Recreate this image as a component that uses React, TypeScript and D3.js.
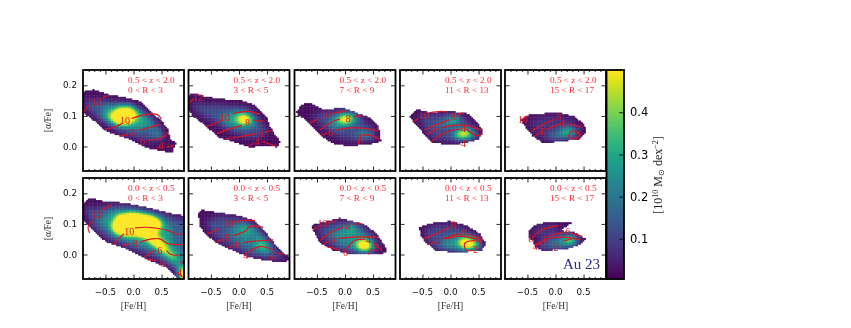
import React, { useEffect, useRef } from 'react'
import { select, scaleLinear, axisBottom, axisTop, axisLeft, axisRight, line, curveCatmullRom, polygonContains, blur2, interpolateViridis, format, range } from 'd3'

type Pt = [number, number]
type Level = { v: number, pts: Pt[] }
type Contour = { label: string, at: Pt, pts: (Pt | null)[] }

const zBins = ['0.5 < z < 2.0', '0.0 < z < 0.5']
const rBins = ['0 < R < 3', '3 < R < 5', '7 < R < 9', '11 < R < 13', '15 < R < 17']
const xMajor = [-0.5, 0, 0.5]
const xMinor = [-0.8, -0.7, -0.6, -0.4, -0.3, -0.2, -0.1, 0.1, 0.2, 0.3, 0.4, 0.6, 0.7, 0.8]
const yMajor = [0, 0.1, 0.2]
const cbarTicks = [0.1, 0.2, 0.3, 0.4]

// outlines of the populated area, [Fe/H] vs [a/Fe]
const outlineT1: Pt[] = [[-0.9, 0.179], [-0.72, 0.186], [-0.45, 0.17], [-0.18, 0.162], [0.12, 0.148], [0.29, 0.115], [0.47, 0.088], [0.6, 0.061], [0.65, 0.023], [0.75, 0.012], [0.68, -0.021], [0.47, -0.012], [0.24, -0.004], [-0.12, 0.028], [-0.48, 0.05], [-0.72, 0.088], [-0.9, 0.11]]
const outlineT2: Pt[] = [[-0.887, 0.17], [-0.815, 0.175], [-0.625, 0.164], [-0.34, 0.156], [0.02, 0.151], [0.256, 0.137], [0.375, 0.115], [0.49, 0.099], [0.55, 0.066], [0.64, 0.039], [0.73, 0.017], [0.67, -0.001], [0.52, 0.003], [0.196, -0.001], [-0.1, 0.017], [-0.34, 0.028], [-0.58, 0.066], [-0.815, 0.099], [-0.887, 0.115]]
const outlineT3: Pt[] = [[-0.86, 0.115], [-0.77, 0.137], [-0.625, 0.143], [-0.39, 0.121], [-0.03, 0.126], [0.21, 0.11], [0.45, 0.094], [0.595, 0.066], [0.64, 0.017], [0.39, 0.007], [0.03, 0.003], [-0.24, 0.012], [-0.45, 0.039], [-0.625, 0.072], [-0.74, 0.094], [-0.85, 0.105]]
const outlineT4: Pt[] = [[-0.73, 0.099], [-0.61, 0.121], [-0.375, 0.112], [-0.02, 0.115], [0.28, 0.11], [0.46, 0.083], [0.58, 0.05], [0.49, 0.023], [0.1, 0.007], [-0.315, 0.012], [-0.46, 0.039], [-0.61, 0.072], [-0.72, 0.094]]
const outlineT5: Pt[] = [[-0.62, 0.088], [-0.455, 0.105], [-0.22, 0.108], [0.08, 0.11], [0.35, 0.097], [0.5, 0.072], [0.545, 0.05], [0.41, 0.025], [0.08, 0.017], [-0.22, 0.012], [-0.4, 0.034], [-0.515, 0.058]]
const outlineB1: Pt[] = [[-0.9, 0.166], [-0.78, 0.185], [-0.54, 0.174], [-0.12, 0.168], [0.35, 0.149], [0.71, 0.133], [0.91, 0.127], [0.92, -0.08], [0.8, -0.08], [0.59, -0.041], [0.235, -0.014], [-0.18, 0.024], [-0.48, 0.04], [-0.72, 0.078], [-0.9, 0.111]]
const outlineB2: Pt[] = [[-0.726, 0.133], [-0.667, 0.146], [-0.4, 0.138], [0.02, 0.127], [0.256, 0.111], [0.49, 0.068], [0.73, 0.013], [0.92, -0.014], [0.79, -0.025], [0.55, -0.02], [0.196, -0.009], [-0.1, 0.013], [-0.4, 0.04], [-0.607, 0.068], [-0.7, 0.095]]
const outlineB3: Pt[] = [[-0.595, 0.097], [-0.39, 0.106], [-0.09, 0.119], [0.33, 0.1], [0.535, 0.073], [0.685, 0.035], [0.744, 0.013], [0.625, 0], [0.15, 0], [-0.21, 0.015], [-0.45, 0.04], [-0.565, 0.078]]
const outlineB4: Pt[] = [[-0.554, 0.089], [-0.375, 0.102], [-0.02, 0.109], [0.28, 0.095], [0.52, 0.068], [0.625, 0.035], [0.548, 0.013], [0.1, 0.008], [-0.256, 0.013], [-0.435, 0.04], [-0.54, 0.062]]
const outlineB5: Pt[] = [[-0.485, 0.073], [-0.396, 0.095], [-0.158, 0.106], [0.29, 0.106], [0.08, 0.078], [0.32, 0.075], [0.527, 0.051], [0.44, 0.033], [0.2, 0.019], [-0.218, 0.013], [-0.366, 0.026], [-0.396, 0.046], [-0.485, 0.057]]

// density
const levelsT1: Level[] = [
    { v: 0.13, pts: [[-0.85, 0.15], [-0.5, 0.15], [-0.1, 0.14], [0.2, 0.115], [0.45, 0.07], [0.55, 0.03], [0.4, 0.02], [0.1, 0.03], [-0.2, 0.05], [-0.5, 0.08], [-0.8, 0.12]] },
    { v: 0.3, pts: [[-0.52, 0.13], [-0.1, 0.138], [0.2, 0.105], [0.36, 0.07], [0.1, 0.058], [-0.3, 0.068], [-0.57, 0.1]] },
    { v: 0.27, pts: [[0.32, 0.05], [0.42, 0.06], [0.5, 0.04], [0.42, 0.03]] },
    { v: 0.58, pts: [[-0.46, 0.1], [-0.3, 0.125], [-0.02, 0.13], [0.1, 0.1], [-0.1, 0.076], [-0.32, 0.076]] },
    { v: 0.85, pts: [[-0.36, 0.1], [-0.2, 0.122], [-0.03, 0.118], [-0.02, 0.09], [-0.2, 0.08]] },
]
const levelsT2: Level[] = [
    { v: 0.12, pts: [[-0.8, 0.14], [-0.3, 0.135], [0.15, 0.125], [0.35, 0.09], [0.5, 0.05], [0.3, 0.03], [0, 0.04], [-0.3, 0.07], [-0.6, 0.1], [-0.8, 0.12]] },
    { v: 0.28, pts: [[-0.35, 0.1], [0, 0.12], [0.2, 0.108], [0.32, 0.075], [0.1, 0.063], [-0.2, 0.068]] },
    { v: 0.46, pts: [[-0.1, 0.09], [0.02, 0.107], [0.22, 0.1], [0.26, 0.08], [0.05, 0.072]] },
    { v: 0.75, pts: [[-0.02, 0.09], [0.1, 0.102], [0.2, 0.09], [0.1, 0.078]] },
]
const levelsT3: Level[] = [
    { v: 0.1, pts: [[-0.6, 0.105], [-0.35, 0.115], [0, 0.12], [0.3, 0.095], [0.5, 0.06], [0.5, 0.03], [0.2, 0.02], [-0.1, 0.03], [-0.35, 0.06]] },
    { v: 0.23, pts: [[-0.35, 0.085], [-0.1, 0.105], [0.15, 0.11], [0.28, 0.085], [0.1, 0.065], [-0.2, 0.055]] },
    { v: 0.23, pts: [[0.15, 0.04], [0.3, 0.055], [0.5, 0.045], [0.5, 0.028], [0.25, 0.027]] },
    { v: 0.45, pts: [[-0.2, 0.09], [-0.05, 0.103], [0.15, 0.105], [0.18, 0.09], [0, 0.077], [-0.15, 0.08]] },
    { v: 0.75, pts: [[-0.1, 0.09], [0.03, 0.102], [0.1, 0.09], [0, 0.078]] },
]
const levelsT4: Level[] = [
    { v: 0.11, pts: [[-0.55, 0.105], [-0.2, 0.108], [0.15, 0.105], [0.45, 0.06], [0.4, 0.03], [0, 0.02], [-0.3, 0.03], [-0.45, 0.06]] },
    { v: 0.25, pts: [[-0.3, 0.07], [-0.1, 0.09], [0.1, 0.1], [0.2, 0.085], [0.05, 0.07]] },
    { v: 0.28, pts: [[0, 0.035], [0.1, 0.055], [0.4, 0.055], [0.5, 0.04], [0.3, 0.025]] },
    { v: 0.4, pts: [[-0.05, 0.085], [0.05, 0.1], [0.15, 0.09], [0.05, 0.078]] },
    { v: 0.65, pts: [[0.08, 0.04], [0.2, 0.056], [0.33, 0.052], [0.33, 0.035], [0.15, 0.03]] },
]
const levelsT5: Level[] = [
    { v: 0.07, pts: [[-0.45, 0.09], [-0.2, 0.1], [0.1, 0.1], [0.3, 0.085], [0.45, 0.055], [0.35, 0.03], [0, 0.025], [-0.25, 0.03], [-0.4, 0.06]] },
    { v: 0.2, pts: [[-0.2, 0.035], [0, 0.05], [0.2, 0.065], [0.4, 0.055], [0.35, 0.035], [0, 0.025]] },
    { v: 0.45, pts: [[0.05, 0.045], [0.2, 0.06], [0.35, 0.05], [0.2, 0.04]] },
]
const levelsB1: Level[] = [
    { v: 0.14, pts: [[-0.85, 0.15], [-0.5, 0.155], [0, 0.155], [0.5, 0.135], [0.9, 0.11], [0.9, -0.06], [0.65, -0.03], [0.3, 0], [-0.1, 0.03], [-0.45, 0.055], [-0.7, 0.09]] },
    { v: 0.28, pts: [[-0.6, 0.11], [-0.4, 0.145], [0, 0.145], [0.4, 0.125], [0.65, 0.095], [0.7, 0.04], [0.85, 0], [0.85, -0.05], [0.65, -0.02], [0.35, 0.02], [0.05, 0.035], [-0.3, 0.06]] },
    { v: 0.42, pts: [[-0.42, 0.09], [-0.3, 0.13], [0, 0.135], [0.35, 0.125], [0.55, 0.1], [0.42, 0.075], [0.6, 0.03], [0.8, -0.02], [0.85, -0.03], [0.65, 0], [0.35, 0.05], [0.15, 0.07], [-0.15, 0.065], [-0.35, 0.07]] },
    { v: 0.9, pts: [[-0.35, 0.09], [-0.25, 0.125], [0, 0.132], [0.3, 0.125], [0.5, 0.105], [0.4, 0.09], [0.35, 0.06], [0.48, 0.035], [0.65, 0], [0.75, -0.025], [0.55, 0.01], [0.35, 0.04], [0.2, 0.065], [-0.1, 0.07], [-0.3, 0.075]] },
    { v: 0.8, pts: [[0.82, -0.04], [0.92, -0.05], [0.92, -0.08], [0.84, -0.08]] },
]
const levelsB2: Level[] = [
    { v: 0.12, pts: [[-0.6, 0.11], [-0.3, 0.125], [0.1, 0.115], [0.4, 0.075], [0.6, 0.03], [0.8, -0.012], [0.55, -0.01], [0.2, 0], [-0.1, 0.025], [-0.4, 0.055]] },
    { v: 0.22, pts: [[-0.2, 0.085], [0, 0.105], [0.3, 0.085], [0.55, 0.04], [0.6, 0.01], [0.3, 0.015], [0.05, 0.035], [-0.15, 0.06]] },
    { v: 0.34, pts: [[0, 0.085], [0.05, 0.095], [0.3, 0.09], [0.25, 0.075], [0.05, 0.07]] },
    { v: 0.34, pts: [[0.3, 0.03], [0.35, 0.05], [0.45, 0.045], [0.55, 0.01], [0.42, 0.005]] },
    { v: 0.48, pts: [[0.33, 0.038], [0.4, 0.047], [0.47, 0.035], [0.38, 0.028]] },
]
const levelsB3: Level[] = [
    { v: 0.11, pts: [[-0.5, 0.09], [-0.2, 0.108], [0.1, 0.108], [0.4, 0.085], [0.6, 0.04], [0.5, 0.01], [0.1, 0.01], [-0.2, 0.025], [-0.4, 0.055]] },
    { v: 0.24, pts: [[-0.3, 0.07], [-0.05, 0.095], [0.2, 0.1], [0.3, 0.07], [0.5, 0.045], [0.5, 0.015], [0.2, 0.015], [-0.05, 0.03]] },
    { v: 0.38, pts: [[0, 0.085], [0.1, 0.095], [0.2, 0.09], [0.1, 0.07]] },
    { v: 0.5, pts: [[0.15, 0.035], [0.25, 0.05], [0.45, 0.045], [0.47, 0.02], [0.3, 0.015]] },
    { v: 0.85, pts: [[0.24, 0.03], [0.38, 0.042], [0.44, 0.025], [0.3, 0.018]] },
]
const levelsB4: Level[] = [
    { v: 0.11, pts: [[-0.45, 0.085], [-0.2, 0.095], [0.1, 0.095], [0.45, 0.065], [0.55, 0.03], [0.4, 0.013], [0, 0.015], [-0.25, 0.02], [-0.4, 0.05]] },
    { v: 0.25, pts: [[-0.2, 0.04], [0, 0.06], [0.2, 0.065], [0.5, 0.05], [0.55, 0.025], [0.3, 0.013], [0, 0.018], [-0.15, 0.025]] },
    { v: 0.5, pts: [[0.1, 0.04], [0.25, 0.055], [0.5, 0.045], [0.45, 0.022], [0.25, 0.025]] },
    { v: 0.85, pts: [[0.14, 0.04], [0.25, 0.052], [0.42, 0.04], [0.3, 0.028]] },
]
const levelsB5: Level[] = [
    { v: 0.08, pts: [[-0.42, 0.075], [-0.3, 0.095], [0.05, 0.095], [0, 0.075], [-0.3, 0.06]] },
    { v: 0.13, pts: [[-0.3, 0.04], [-0.1, 0.065], [0.2, 0.07], [0.45, 0.05], [0.35, 0.03], [0, 0.02], [-0.25, 0.02]] },
    { v: 0.25, pts: [[-0.1, 0.035], [0.1, 0.055], [0.3, 0.062], [0.45, 0.05], [0.3, 0.033], [0, 0.025]] },
    { v: 0.42, pts: [[0.1, 0.045], [0.25, 0.058], [0.38, 0.05], [0.25, 0.04]] },
    { v: 0.75, pts: [[0.16, 0.048], [0.27, 0.056], [0.34, 0.05], [0.25, 0.043]] },
]

// contours of the mean age, null marks the gap for the inline label
const contoursT1: Contour[] = [
    { label: '12', at: [-0.65, 0.148], pts: [[-0.9, 0.11], [-0.8, 0.135], null, [-0.55, 0.16], [-0.45, 0.167]] },
    { label: '10', at: [-0.15, 0.086], pts: [[-0.51, 0.056], [-0.3, 0.066], [-0.21, 0.075], null, [-0.03, 0.092], [0.235, 0.105], [0.42, 0.105], [0.5, 0.09]] },
    { label: '8', at: [-0.02, 0.045], pts: [[-0.24, 0.034], [-0.1, 0.039], null, [0.09, 0.053], [0.29, 0.063], [0.47, 0.072]] },
    { label: '6', at: [0.16, 0.015], pts: [[0.04, 0.014], null, [0.265, 0.02], [0.47, 0.026], [0.59, 0.039], [0.6, 0.047]] },
    { label: '4', at: [0.5, 0.003], pts: [[0.44, -0.008], [0.47, 0.004], null, [0.59, -0.001], [0.71, 0.003]] },
]
const contoursT2: Contour[] = [
    { label: '12', at: [-0.73, 0.159], pts: [[-0.887, 0.142], [-0.815, 0.156], null, [-0.665, 0.163], [-0.625, 0.166]] },
    { label: '10', at: [-0.25, 0.096], pts: [[-0.595, 0.066], [-0.4, 0.077], [-0.32, 0.088], null, [-0.1, 0.108], [0.137, 0.115], [0.375, 0.105]] },
    { label: '8', at: [0.15, 0.077], pts: [[-0.4, 0.042], [-0.19, 0.056], [0.05, 0.069], null, [0.256, 0.085], [0.435, 0.083]] },
    { label: '6', at: [0.39, 0.042], pts: [[-0.24, 0.025], [0.02, 0.032], [0.315, 0.042], null, [0.464, 0.047], [0.61, 0.053]] },
    { label: '4', at: [0.33, 0.017], pts: [[0.185, -0.001], [0.256, 0.012], null, [0.4, 0.017], [0.67, 0.001]] },
]
const contoursT3: Contour[] = [
    { label: '10', at: [-0.34, 0.105], pts: [[-0.64, 0.074], [-0.48, 0.09], null, [-0.21, 0.11], [0, 0.115]] },
    { label: '8', at: [0.06, 0.09], pts: [[-0.45, 0.053], [-0.27, 0.077], [-0.09, 0.09], null, [0.15, 0.097], [0.285, 0.101]] },
    { label: '6', at: [-0.26, 0.045], pts: [[-0.43, 0.036], [-0.32, 0.043], null, [-0.18, 0.053], [0.09, 0.061], [0.39, 0.059], [0.58, 0.052], [0.58, 0.066]] },
    { label: '4', at: [0.25, 0.028], pts: [[0.24, 0.007], [0.24, 0.02], null, [0.285, 0.034], [0.39, 0.039], [0.61, 0.025]] },
]
const contoursT4: Contour[] = [
    { label: '10', at: [-0.476, 0.102], pts: [[-0.655, 0.083], [-0.58, 0.09], null, [-0.385, 0.11], [-0.165, 0.115], [-0.05, 0.112]] },
    { label: '8', at: [0.05, 0.097], pts: [[-0.465, 0.053], [-0.255, 0.072], [-0.02, 0.088], null, [0.13, 0.105], [0.22, 0.11]] },
    { label: '6', at: [-0.255, 0.056], pts: [[-0.42, 0.039], [-0.32, 0.05], null, [-0.165, 0.061], [0.04, 0.069], [0.28, 0.069], [0.55, 0.053]] },
    { label: '4', at: [0.23, 0.058], pts: [[-0.33, 0.017], [-0.195, 0.036], [0.04, 0.053], [0.19, 0.058], null, [0.28, 0.058], [0.46, 0.036], [0.565, 0.042]] },
    { label: '4', at: [0.23, 0.01], pts: [] },
]
const contoursT5: Contour[] = [
    { label: '10', at: [-0.58, 0.088], pts: [[-0.634, 0.086], [-0.485, 0.1]] },
    { label: '8', at: [0.06, 0.099], pts: [[-0.426, 0.05], [-0.218, 0.072], [-0.01, 0.09]] },
    { label: '6', at: [0.15, 0.075], pts: [[0.02, 0.07], [0.1, 0.074], null, [0.26, 0.074], [0.467, 0.063]] },
    { label: '4', at: [-0.25, 0.048], pts: [[-0.366, 0.034], [-0.29, 0.043], null, [-0.16, 0.056], [0.02, 0.07]] },
    { label: '2', at: [0.39, 0.032], pts: [[0.23, 0.036], [0.29, 0.05], [0.44, 0.042], [0.38, 0.028], [0.26, 0.028], [0.23, 0.036]] },
]
const contoursB1: Contour[] = [
    { label: '12', at: [-0.645, 0.13], pts: [[-0.78, 0.07], [-0.81, 0.089], [-0.72, 0.111], null, [-0.57, 0.146], [-0.39, 0.162]] },
    { label: '10', at: [-0.075, 0.075], pts: [[-0.35, 0.033], [-0.27, 0.051], [-0.17, 0.068], null, [0.03, 0.087], [0.235, 0.089], [0.62, 0.078], [0.74, 0.068], [0.91, 0.068]] },
    { label: '8', at: [0.03, 0.035], pts: [[-0.18, 0.029], [-0.06, 0.035], null, [0.115, 0.04], [0.325, 0.051], [0.47, 0.051], [0.62, 0.035], [0.91, 0.033]] },
    { label: '6', at: [0.47, 0.013], pts: [[0.205, -0.009], [0.295, 0.004], [0.38, 0.013], null, [0.59, 0.013], [0.65, 0.002], [0.8, -0.003]] },
    { label: '6', at: [0.515, -0.028], pts: [[0.22, -0.014], [0.41, -0.02], null, [0.65, -0.047]] },
    { label: '4', at: [0.82, -0.058], pts: [[0.83, -0.027], [0.91, -0.027], null, [0.77, -0.058], [0.88, -0.074]] },
]
const contoursB2: Contour[] = [
    { label: '10', at: [-0.19, 0.1], pts: [[-0.56, 0.068], [-0.34, 0.084], null, [-0.1, 0.106], [0.08, 0.111], [0.285, 0.111]] },
    { label: '8', at: [-0.2, 0.057], pts: [[-0.4, 0.042], [-0.28, 0.05], null, [-0.1, 0.062], [0.107, 0.076], [0.196, 0.092], [0.435, 0.089]] },
    { label: '6', at: [-0.024, 0.033], pts: [[-0.19, 0.022], [-0.1, 0.03], null, [0.077, 0.04], [0.315, 0.044], [0.61, 0.048]] },
    { label: '4', at: [0.12, -0.003], pts: [[0.167, 0.008], [0.375, 0.026], [0.61, 0.015]] },
    { label: '2', at: [0.63, -0.003], pts: [[0.55, -0.014], [0.58, -0.006], null, [0.68, 0.004], [0.79, 0.002]] },
]
const contoursB3: Contour[] = [
    { label: '10', at: [-0.4, 0.1], pts: [[-0.58, 0.078], [-0.5, 0.09], null, [-0.3, 0.102], [-0.15, 0.111]] },
    { label: '8', at: [0.06, 0.092], pts: [[-0.446, 0.046], [-0.238, 0.073], [-0.03, 0.09], null, [0.15, 0.098], [0.3, 0.102]] },
    { label: '6', at: [-0.22, 0.048], pts: [[-0.387, 0.033], [-0.29, 0.043], null, [-0.12, 0.053], [0.15, 0.057], [0.595, 0.057]] },
    { label: '4', at: [0.42, 0.048], pts: [[0.03, 0.013], [0.09, 0.033], [0.21, 0.048], [0.36, 0.05], null, [0.505, 0.04], [0.655, 0.013]] },
    { label: '6', at: [0.01, 0.008], pts: [[-0.33, 0.026], [-0.09, 0.015]] },
    { label: '2', at: [0.55, 0.022], pts: [[0.42, 0], [0.476, 0.019]] },
]
const contoursB4: Contour[] = [
    { label: '8', at: [0.05, 0.098], pts: [[-0.465, 0.051], [-0.256, 0.068], [-0.02, 0.089]] },
    { label: '6', at: [0.23, 0.071], pts: [[-0.137, 0.051], [0.04, 0.062], [0.16, 0.069], null, [0.31, 0.068], [0.548, 0.051]] },
    { label: '4', at: [-0.214, 0.044], pts: [[-0.387, 0.033], [-0.28, 0.042], null, [-0.08, 0.051], [0.16, 0.06], [0.548, 0.046]] },
    { label: '2', at: [0.446, 0.015], pts: [[0.4, 0.013], [0.28, 0.015], [0.25, 0.035], [0.34, 0.044], [0.52, 0.042], [0.548, 0.033]] },
]
const contoursB5: Contour[] = [
    { label: '8', at: [-0.443, 0.053], pts: [[-0.4, 0.057], [-0.277, 0.078], [0.05, 0.095]] },
    { label: '6', at: [0.217, 0.075], pts: [[-0.1, 0.062], [0.14, 0.074], null, [0.29, 0.07], [0.467, 0.06]] },
    { label: '6', at: [-0.18, 0.05], pts: [[-0.366, 0.033], [-0.25, 0.04], null, [-0.12, 0.057], [-0.1, 0.062]] },
    { label: '4', at: [-0.36, 0.026], pts: [[-0.3, 0.03], [-0.158, 0.051], [0.14, 0.057], [0.44, 0.049]] },
    { label: '2', at: [0.01, 0.022], pts: [[-0.01, 0.015], null, [0.14, 0.044], [0.29, 0.051]] },
]

const outlines = [[outlineT1, outlineT2, outlineT3, outlineT4, outlineT5], [outlineB1, outlineB2, outlineB3, outlineB4, outlineB5]]
const levels = [[levelsT1, levelsT2, levelsT3, levelsT4, levelsT5], [levelsB1, levelsB2, levelsB3, levelsB4, levelsB5]]
const contours = [[contoursT1, contoursT2, contoursT3, contoursT4, contoursT5], [contoursB1, contoursB2, contoursB3, contoursB4, contoursB5]]

const serif = '"Liberation Serif", serif'
const sans = '"DejaVu Sans", sans-serif'
const red = '#e0141f'
const BINS = 64
const panelW = 101
const panelH = 101
const panelLeft = [83, 188.5, 294.5, 400, 505]
const panelTop = [70, 178]
const vMin = 0.005
const vMax = 0.5

const App = () => {
    const svgRef = useRef(null)

    useEffect(() => {
        const svg = select(svgRef.current)
        svg.selectAll('*').remove()

        // the reference is a downsampled raster, soften everything a little
        svg.append('defs').append('filter').attr('id', 'soft')
            .attr('x', 0).attr('y', 0).attr('width', 851).attr('height', 328)
            .attr('filterUnits', 'userSpaceOnUse')
            .attr('color-interpolation-filters', 'sRGB')
            .append('feGaussianBlur').attr('stdDeviation', 0.35)
        const root = svg.append('g').attr('filter', 'url(#soft)')

        const colour = scaleLinear().domain([vMin, vMax]).range([0, 1]).clamp(true)
        const xScale = scaleLinear().domain([-0.9, 0.9]).range([0, panelW])
        const yScale = scaleLinear().domain([-0.08, 0.25]).range([panelH, 0])
        const xBin = scaleLinear().domain([0, BINS]).range(xScale.domain())
        const yBin = scaleLinear().domain([0, BINS]).range(yScale.domain())
        const lineGen = line().defined(d => d !== null).x(d => xScale(d[0])).y(d => yScale(d[1])).curve(curveCatmullRom)

        panelTop.forEach((top, row) => {
            panelLeft.forEach((left, col) => {
                const g = root.append('g').attr('transform', `translate(${left},${top})`)

                // rasterise the patches on the 2d histogram grid, then smooth them
                const grid = { data: new Float64Array(BINS * BINS), width: BINS, height: BINS }
                const cells = []
                range(BINS).forEach(j => range(BINS).forEach(i => {
                    const p: Pt = [xBin(i + 0.5), yBin(j + 0.5)]
                    let v = 0.02
                    levels[row][col].forEach(l => { if (polygonContains(l.pts, p)) v = Math.max(v, l.v) })
                    grid.data[j * BINS + i] = v
                    if (polygonContains(outlines[row][col], p)) cells.push([i, j])
                }))
                blur2(grid, 1.4)

                g.append('g').selectAll('rect').data(cells).join('rect')
                    .attr('x', d => xScale(xBin(d[0])))
                    .attr('y', d => yScale(yBin(d[1] + 1)))
                    .attr('width', xScale(xBin(1)) - xScale(xBin(0)) + 0.4)
                    .attr('height', yScale(yBin(0)) - yScale(yBin(1)) + 0.4)
                    .attr('fill', d => interpolateViridis(colour(grid.data[d[1] * BINS + d[0]])))

                const cs = g.append('g')
                contours[row][col].forEach(c => {
                    if (c.pts.length) cs.append('path').attr('d', lineGen(c.pts)).attr('fill', 'none').attr('stroke', red).attr('stroke-width', 1.15)
                    cs.append('text').text(c.label)
                        .attr('x', xScale(c.at[0])).attr('y', yScale(c.at[1]))
                        .attr('text-anchor', 'middle').attr('dominant-baseline', 'central')
                        .attr('font-family', serif).attr('font-size', 10).attr('fill', red)
                })

                // ticks on all four sides, pointing in
                const axes = [
                    [axisBottom(xScale), xMajor, xMinor, `translate(0,${panelH})`],
                    [axisTop(xScale), xMajor, xMinor, 'translate(0,0)'],
                    [axisLeft(yScale), yMajor, [], 'translate(0,0)'],
                    [axisRight(yScale), yMajor, [], `translate(${panelW},0)`],
                ]
                axes.forEach(([axis, major, minor, tr]) => {
                    g.append('g').attr('transform', tr)
                        .call(axis.tickValues(major).tickSize(-4.5).tickFormat(''))
                    g.append('g').attr('transform', tr)
                        .call(axis.tickValues(minor).tickSize(-2).tickFormat(''))
                })
                g.selectAll('.domain').remove()
                g.selectAll('.tick line').attr('stroke', '#111').attr('stroke-width', 0.9)

                g.append('rect').attr('width', panelW).attr('height', panelH)
                    .attr('fill', 'none').attr('stroke', '#000').attr('stroke-width', 1.8)

                // bin labels
                const tx = g.append('text').attr('font-family', serif).attr('font-size', 9.2).attr('fill', '#fa2c38')
                tx.append('tspan').attr('x', 45).attr('y', 13).text(zBins[row])
                tx.append('tspan').attr('x', 45).attr('y', 23).text(rBins[col])

                // outer tick labels
                if (col === 0) {
                    yMajor.forEach(v => {
                        g.append('text').text(format('.1f')(v))
                            .attr('x', -6).attr('y', yScale(v)).attr('dy', '0.36em').attr('text-anchor', 'end')
                            .attr('font-family', sans).attr('font-size', 8.8).attr('fill', '#111')
                    })
                    g.append('text').text('[α/Fe]')
                        .attr('transform', `translate(-32,${panelH / 2}) rotate(-90)`).attr('text-anchor', 'middle')
                        .attr('font-family', serif).attr('font-size', 9.5).attr('fill', '#333')
                }
                if (row === 1) {
                    xMajor.forEach(v => {
                        g.append('text').text(format('.1f')(v).replace('-', '−'))
                            .attr('x', xScale(v)).attr('y', 116.5).attr('text-anchor', 'middle')
                            .attr('font-family', sans).attr('font-size', 8.8).attr('fill', '#111')
                    })
                    g.append('text').text('[Fe/H]')
                        .attr('x', panelW / 2).attr('y', 131).attr('text-anchor', 'middle')
                        .attr('font-family', serif).attr('font-size', 9.5).attr('fill', '#333')
                }
            })
        })

        // colour bar
        const cbX = 606.5
        const cbW = 17.5
        const cbScale = scaleLinear().domain([vMin, vMax]).range([279, 70])
        const strips = range(0, 209)
        root.append('g').selectAll('rect').data(strips).join('rect')
            .attr('x', cbX).attr('y', d => 70 + d).attr('width', cbW).attr('height', 1.4)
            .attr('fill', d => interpolateViridis(colour(cbScale.invert(70 + d + 0.5))))
        root.append('g').attr('transform', `translate(${cbX + cbW},0)`)
            .call(axisRight(cbScale).tickValues(cbarTicks).tickSize(-5).tickFormat(''))
            .call(a => a.select('.domain').remove())
            .call(a => a.selectAll('.tick line').attr('stroke', '#111').attr('stroke-width', 0.9))
        cbarTicks.forEach(v => {
            root.append('text').text(format('.1f')(v))
                .attr('x', 630).attr('y', cbScale(v)).attr('dy', '0.36em')
                .attr('font-family', sans).attr('font-size', 11.5).attr('fill', '#000')
        })
        root.append('rect').attr('x', cbX).attr('y', 70).attr('width', cbW).attr('height', 209)
            .attr('fill', 'none').attr('stroke', '#000').attr('stroke-width', 1.8)

        const label = root.append('text')
            .attr('transform', 'translate(662,175) rotate(-90)').attr('text-anchor', 'middle')
            .attr('font-family', serif).attr('font-size', 12).attr('fill', '#222')
        label.append('tspan').text('[10')
        label.append('tspan').text('10').attr('font-size', 8).attr('dy', -4)
        label.append('tspan').text(' M').attr('dy', 4)
        label.append('tspan').text('⊙').attr('font-size', 8).attr('dy', 2)
        label.append('tspan').text(' dex').attr('dy', -2)
        label.append('tspan').text('−2').attr('font-size', 8).attr('dy', -4)
        label.append('tspan').text(']').attr('dy', 4)

        root.append('text').text('Au 23')
            .attr('x', 563).attr('y', 269)
            .attr('font-family', serif).attr('font-size', 15).attr('fill', '#27278f')
    }, [])

    return (
        <svg ref={svgRef} width={851} height={328} style={{ position: 'absolute', left: 0, top: 0, background: '#fff' }} />
    )
}

export default App
